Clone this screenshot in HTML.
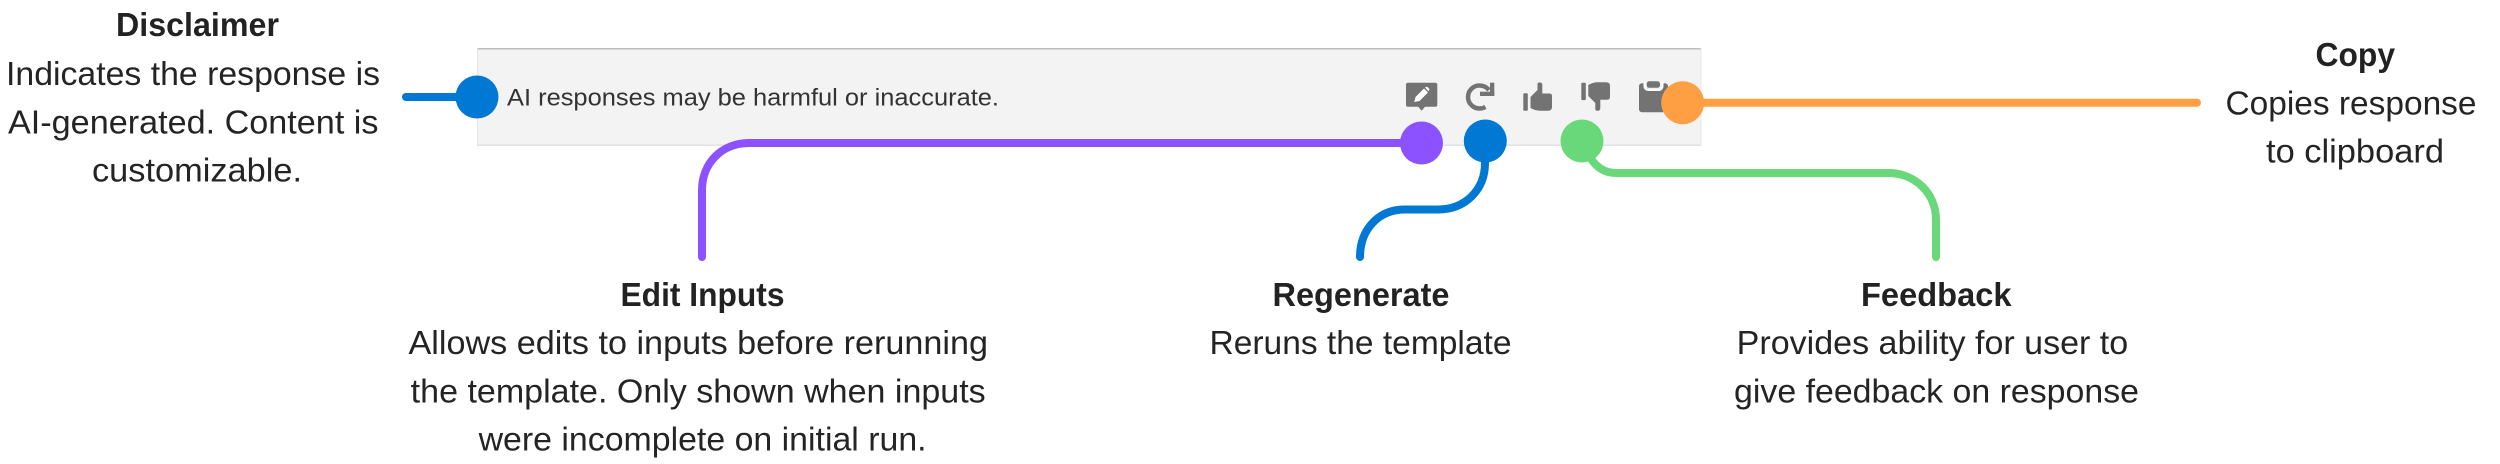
<!DOCTYPE html>
<html>
<head>
<meta charset="utf-8">
<style>
html,body{margin:0;padding:0;background:#fff;width:2500px;height:464px;overflow:hidden}
svg{display:block}
text{font-family:"Liberation Sans",sans-serif;fill:#242424;font-size:33.5px}
.b{font-weight:700;fill:#222}
</style>
</head>
<body>
<svg width="2500" height="464" viewBox="0 0 2500 464" xmlns="http://www.w3.org/2000/svg">
<rect width="2500" height="464" fill="#fff"/>
<!-- bar -->
<rect x="477" y="48" width="1224" height="97" fill="#f3f3f3"/>
<rect x="477" y="48" width="1224" height="1.5" fill="#bcbcbc"/>
<rect x="477" y="144.5" width="1224" height="1.5" fill="#e2e2e2"/>
<rect x="477" y="48" width="1" height="98" fill="#e4e4e4"/>
<rect x="1700.5" y="48" width="1" height="98" fill="#e8e8e8"/>
<text x="507" y="105.5" style="font-size:24px;fill:#333" textLength="492" lengthAdjust="spacingAndGlyphs">AI responses may be harmful or inaccurate.</text>
<!-- icons -->
<g fill="#737373">
<!-- edit -->
<path d="M1408 82.7h27.3a2 2 0 0 1 2 2v20a2 2 0 0 1-2 2h-10.300l-3.400 4-3.400-4h-10.200a2 2 0 0 1-2-2v-20a2 2 0 0 1 2-2z"/>
<path d="M1414.300 102l1.200-5 8.500-8.500 4 4-8.500 8.500zM1425 87.500l1-.500a1.500 1.500 0 0 1 2 .500l1 1a1.500 1.500 0 0 1 0 2l-.500 .800z" fill="#fff"/>
<!-- redo -->
<path d="M1489 90C1486.500 87 1483.500 85.500 1479.500 85.500A11.500 11.500 0 0 0 1479.500 108.500C1481.500 108.500 1483.500 108 1485.500 107" fill="none" stroke="#737373" stroke-width="4.500"/>
<rect x="1490" y="82.700" width="4.300" height="13.300"/>
<rect x="1480" y="91.700" width="14.300" height="4.300"/>
<!-- thumb up -->
<rect x="1523.300" y="93.300" width="4.500" height="17.400" rx="1"/>
<path d="M1530.500 97L1537.500 90V84Q1537.500 82.500 1539 82.500H1540Q1542.300 82.500 1542.300 85V93.500H1549.500Q1552 93.500 1552 96V107Q1552 110.700 1548 110.700H1540Q1535 110.700 1530.500 108Z"/>
<!-- thumb down -->
<rect x="1581.300" y="82.700" width="4.500" height="17.400" rx="1"/>
<path d="M1588.300 85Q1593 82.300 1598 82.300H1606Q1610 82.300 1610 86V97Q1610 99.700 1607.500 99.700H1600.300V108Q1600.300 110.700 1598 110.700H1597Q1595.300 110.700 1595.300 109V103L1588.300 96Z"/>
<!-- clipboard -->
<rect x="1639" y="83.300" width="29" height="29" rx="3"/>
<path d="M1644.500 82V86.500a3.500 3.500 0 0 0 3.500 3.500H1659a3.500 3.500 0 0 0 3.500-3.500V82" fill="#f3f3f3" stroke="#fff" stroke-width="2"/>
<rect x="1646.700" y="81.300" width="13.300" height="6.500" rx="2.500"/>
</g>
<!-- connectors -->
<g fill="none" stroke-width="8" stroke-linecap="round">
<path d="M406 97H477" stroke="#0078d4"/>
<path d="M702 257V190C702 163 722 143 749 143H1421" stroke="#8c52ff"/>
<path d="M1485 141V163C1485 190 1465 209.500 1438 209.500H1405C1378 209.500 1360 230 1360 257" stroke="#0078d4"/>
<path d="M1582 141C1590 162 1600 173 1616 173H1888C1915 173 1936 193 1936 220V257" stroke="#68d87a"/>
<path d="M1683 102.700H2197" stroke="#ff9f43"/>
</g>
<circle cx="477" cy="97" r="21.500" fill="#0078d4"/>
<circle cx="1421.500" cy="143" r="21.500" fill="#8c52ff"/>
<circle cx="1485.300" cy="141" r="21.500" fill="#0078d4"/>
<circle cx="1582" cy="141" r="21.500" fill="#68d87a"/>
<circle cx="1682.700" cy="102.700" r="21.500" fill="#ff9f43"/>
<!-- labels -->
<text class="b" x="116" y="36" textLength="163" lengthAdjust="spacingAndGlyphs">Disclaimer</text>
<text x="6" y="85" textLength="374" lengthAdjust="spacingAndGlyphs">Indicates the response is</text>
<text x="8" y="133.500" textLength="370.500" lengthAdjust="spacingAndGlyphs">AI-generated. Content is</text>
<text x="92" y="181.500" textLength="210" lengthAdjust="spacingAndGlyphs">customizable.</text>

<text class="b" x="620.500" y="306" textLength="164" lengthAdjust="spacingAndGlyphs">Edit Inputs</text>
<text x="408.500" y="354" textLength="579.500" lengthAdjust="spacingAndGlyphs">Allows edits to inputs before rerunning</text>
<text x="410.700" y="402.500" textLength="575" lengthAdjust="spacingAndGlyphs">the template. Only shown when inputs</text>
<text x="478.600" y="450.500" textLength="448" lengthAdjust="spacingAndGlyphs">were incomplete on initial run.</text>

<text class="b" x="1272.500" y="306" textLength="177" lengthAdjust="spacingAndGlyphs">Regenerate</text>
<text x="1209.500" y="354" textLength="302" lengthAdjust="spacingAndGlyphs">Reruns the template</text>

<text class="b" x="1861" y="306" textLength="150.500" lengthAdjust="spacingAndGlyphs">Feedback</text>
<text x="1736.700" y="354" textLength="391.500" lengthAdjust="spacingAndGlyphs">Provides ability for user to</text>
<text x="1734" y="402.500" textLength="405" lengthAdjust="spacingAndGlyphs">give feedback on response</text>

<text class="b" x="2315.500" y="66" textLength="79.500" lengthAdjust="spacingAndGlyphs">Copy</text>
<text x="2225.500" y="114.300" textLength="251" lengthAdjust="spacingAndGlyphs">Copies response</text>
<text x="2266" y="162.700" textLength="178" lengthAdjust="spacingAndGlyphs">to clipboard</text>
</svg>
</body>
</html>
